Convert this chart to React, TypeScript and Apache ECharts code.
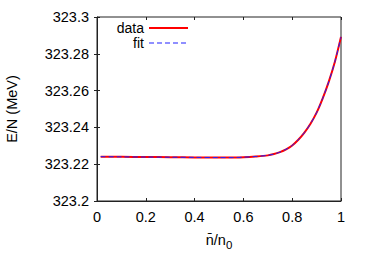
import React, { useEffect, useRef } from "react";
import * as echarts from "echarts";

const xValues = [0.015, 0.1, 0.2, 0.3, 0.4, 0.5, 0.55, 0.6, 0.65, 0.7, 0.725, 0.75, 0.775, 0.8, 0.825, 0.85, 0.875, 0.9, 0.925, 0.95, 0.975, 1.0];
const dataValues = [323.2241, 323.224, 323.2239, 323.2238, 323.2237, 323.2236, 323.2236, 323.2238, 323.2242, 323.2248, 323.2255, 323.2266, 323.2281, 323.2302, 323.2333, 323.2372, 323.242, 323.248, 323.2558, 323.2649, 323.2757, 323.2892];
const fitValues = [323.2241, 323.224, 323.2239, 323.2238, 323.2237, 323.2236, 323.2236, 323.2238, 323.2242, 323.2248, 323.2255, 323.2266, 323.2281, 323.2302, 323.2333, 323.2372, 323.242, 323.248, 323.2558, 323.2649, 323.2757, 323.2892];
const seriesNames = ["data", "fit"];
const xTicks = { min: 0, max: 1, interval: 0.2 };
const yTicks = { min: 323.2, max: 323.3, interval: 0.02 };

const FONT = "Liberation Sans, Arial, sans-serif";
const AX = "#222";

export default function App() {
  const ref = useRef<HTMLDivElement>(null);
  useEffect(() => {
    const chart = echarts.init(ref.current!, null, { renderer: "svg" });
    const tickCommon = { show: true, inside: true, length: 3, lineStyle: { color: AX, width: 1 } };
    const fmt = (v: number) => String(parseFloat(Number(v).toFixed(2)));
    chart.setOption({
      animation: false,
      textStyle: { fontFamily: FONT },
      grid: {
        left: 97, right: 33, top: 17, bottom: 61, show: true, borderColor: AX, borderWidth: 1,
        backgroundColor: "transparent", containLabel: false, outerBoundsMode: "none",
      },
      legend: [
        {
          data: [seriesNames[0]], orient: "vertical", align: "right", right: 186, top: 21,
          itemWidth: 39, itemHeight: 14, icon: "path://M0,6L39,6L39,8L0,8Z",
          itemStyle: { color: "#ff0000" },
          textStyle: { fontSize: 14, color: "#000", fontFamily: FONT }, padding: 0,
        },
        {
          data: [seriesNames[1]], orient: "vertical", align: "right", right: 186, top: 36,
          itemWidth: 39, itemHeight: 14,
          icon: "path://M0,6.5h5v1h-5zM8,6.5h5v1h-5zM16,6.5h5v1h-5zM24,6.5h5v1h-5zM32,6.5h5v1h-5zM0,0h0.01v0.01h-0.01zM39,14h0.01v0.01h-0.01z",
          itemStyle: { color: "#2020ff" },
          textStyle: { fontSize: 14, color: "#000", fontFamily: FONT }, padding: 0,
        },
      ],
      xAxis: [
        {
          type: "value", min: xTicks.min, max: xTicks.max, interval: xTicks.interval,
          axisLine: { show: true, lineStyle: { color: AX, width: 1 } },
          axisTick: tickCommon, splitLine: { show: false },
          axisLabel: { fontSize: 14.5, color: "#000", margin: 8, fontFamily: FONT, formatter: fmt },
          name: "{a|n\u0304/n}{s|0}", nameLocation: "middle", nameGap: 28,
          nameTextStyle: {
            fontFamily: FONT, color: "#000",
            rich: { a: { fontSize: 14.5, fontFamily: FONT, color: "#000" }, s: { fontSize: 11.5, fontFamily: FONT, color: "#000", padding: [10, 0, 0, 0] } },
          },
        },
        {
          type: "value", position: "top", min: xTicks.min, max: xTicks.max, interval: xTicks.interval,
          axisLine: { show: false }, axisTick: tickCommon, axisLabel: { show: false }, splitLine: { show: false },
        },
      ],
      yAxis: [
        {
          type: "value", min: yTicks.min, max: yTicks.max, interval: yTicks.interval,
          axisLine: { show: true, lineStyle: { color: AX, width: 1 } },
          axisTick: tickCommon, splitLine: { show: false },
          axisLabel: { fontSize: 14.5, color: "#000", margin: 8, fontFamily: FONT, formatter: fmt },
          name: "E/N (MeV)", nameLocation: "middle", nameGap: 78,
          nameTextStyle: { fontSize: 14.5, color: "#000", fontFamily: FONT },
        },
        {
          type: "value", position: "right", min: yTicks.min, max: yTicks.max, interval: yTicks.interval,
          axisLine: { show: false }, axisTick: tickCommon, axisLabel: { show: false }, splitLine: { show: false },
        },
      ],
      series: [
        {
          name: seriesNames[0], type: "line", symbol: "none", z: 2, smooth: 0.3,
          data: xValues.map((x, i) => [x, dataValues[i]]),
          lineStyle: { color: "#ff0000", width: 2 }, itemStyle: { color: "#ff0000" },
        },
        {
          name: seriesNames[1], type: "line", symbol: "none", z: 3, smooth: 0.3,
          data: xValues.map((x, i) => [x, fitValues[i]]),
          lineStyle: { color: "#2020ff", width: 1, type: [5, 3] }, itemStyle: { color: "#2020ff" },
        },
      ],
    });
    return () => chart.dispose();
  }, []);
  return <div ref={ref} style={{ width: 374, height: 262, position: "absolute", left: 0, top: 0 }} />;
}
